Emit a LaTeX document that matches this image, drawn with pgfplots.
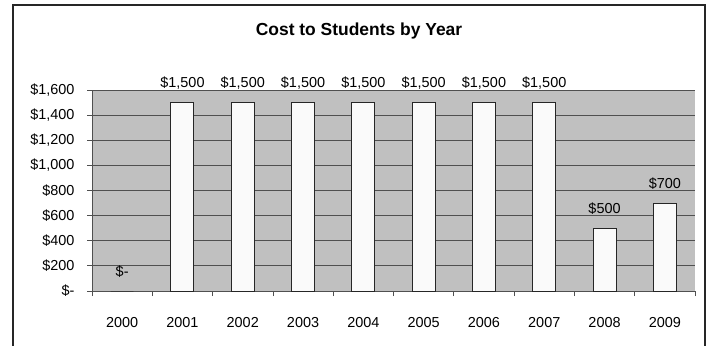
\documentclass[border=0pt]{standalone}
\usepackage{pgfplots}
\pgfplotsset{compat=1.18}
\usepackage{fontspec}
\setmainfont{Liberation Sans}
\definecolor{plotbg}{HTML}{C0C0C0}
\definecolor{gridc}{HTML}{505050}
\begin{document}
\begin{tikzpicture}[x=1bp,y=1bp]
\useasboundingbox (0,0) rectangle (709,345);
\draw[line width=1.5bp, black!85] (13,-2) -- (13,340) -- (705,340) -- (705,-2);
\node[font=\bfseries\fontsize{17.5}{20}\selectfont] at (359,314) {Cost to Students by Year};
\begin{axis}[
  at={(92bp,54bp)}, anchor=south west,
  width=603bp, height=201bp, scale only axis,
  xmin=-0.5, xmax=9.5, ymin=0, ymax=1600,
  axis background/.style={fill=plotbg},
  axis line style={draw=gridc, line width=0.8bp},
  axis x line*=bottom, axis y line*=left,
  ytick={0,200,...,1600},
  yticklabels={\$-,\$200,\$400,\$600,\$800,\$1{,}000,\$1{,}200,\$1{,}400,\$1{,}600},
  xtick={-0.5,0.5,...,9.5},
  xticklabels={2000,2001,2002,2003,2004,2005,2006,2007,2008,2009},
  x tick label as interval,
  tick align=outside, major tick length=5bp,
  tick style={draw=gridc, line width=0.8bp},
  ymajorgrids, grid style={draw=gridc, line width=0.8bp},
  ticklabel style={font=\fontsize{14.5}{16}\selectfont},
  xticklabel style={yshift=-18bp},
  yticklabel style={xshift=-9bp},
  /pgf/number format/assume math mode=true,
  clip=false,
  ybar, bar width=23bp,
  nodes near coords, point meta=explicit symbolic,
  every node near coord/.append style={font=\fontsize{14.5}{16}\selectfont, anchor=south, yshift=9.5bp},
]
\addplot[fill=white!98!black, draw=black!85, line width=1bp] coordinates {
  (0,0)[\$-] (1,1500)[\$1{,}500] (2,1500)[\$1{,}500] (3,1500)[\$1{,}500]
  (4,1500)[\$1{,}500] (5,1500)[\$1{,}500] (6,1500)[\$1{,}500] (7,1500)[\$1{,}500]
  (8,500)[\$500] (9,700)[\$700]
};
\end{axis}
\end{tikzpicture}
\end{document}
